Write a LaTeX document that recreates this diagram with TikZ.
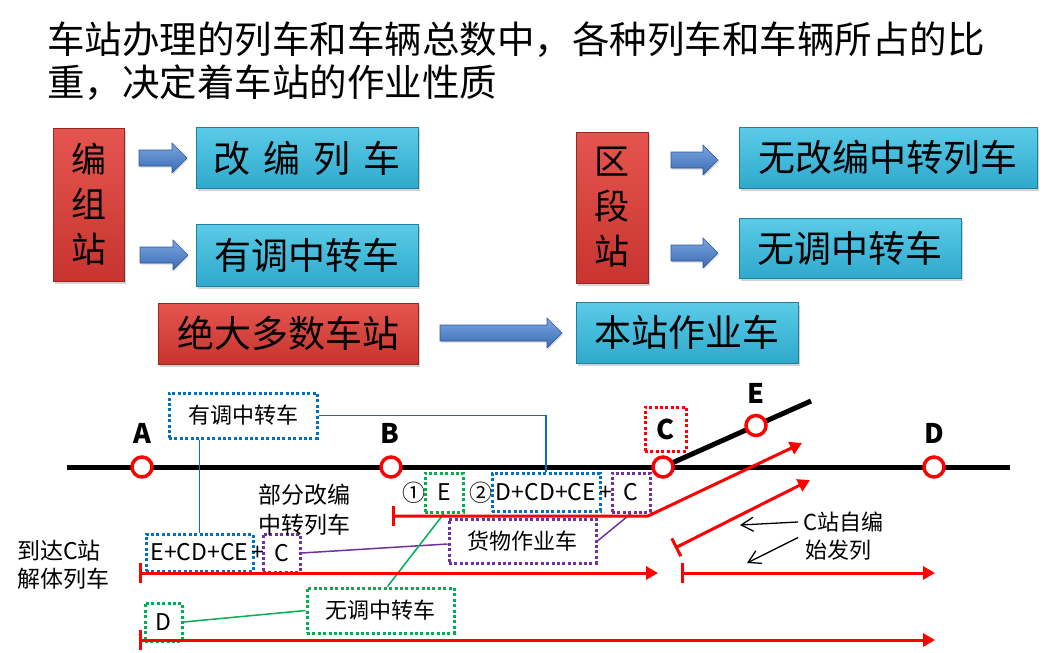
\documentclass[tikz,border=0pt]{standalone}
\usepackage{fontspec}
\setmainfont{Noto Sans CJK SC}
\usetikzlibrary{arrows.meta,shadows}
\definecolor{redtop}{HTML}{E5554F}
\definecolor{redbot}{HTML}{C8342F}
\definecolor{rededge}{HTML}{9A2622}
\definecolor{cytop}{HTML}{5BCBE8}
\definecolor{cybot}{HTML}{2FA9CC}
\definecolor{cyedge}{HTML}{1F7E9C}
\definecolor{artop}{HTML}{7AA6E0}
\definecolor{arbot}{HTML}{3A6BB3}
\definecolor{aredge}{HTML}{2F5597}
\definecolor{dblue}{HTML}{0070C0}
\definecolor{dgreen}{HTML}{00B050}
\definecolor{dpurple}{HTML}{7030A0}
\definecolor{dred}{HTML}{FF0000}
% block arrow from (#1,#3) to (#2,#3)
\newcommand{\blockarrow}[3]{%
  \path[fatarr] (#1,{#3-8}) -- ({#2-15},{#3-8}) -- ({#2-15},{#3-15}) -- (#2,#3)
    -- ({#2-15},{#3+15}) -- ({#2-15},{#3+8}) -- (#1,{#3+8}) -- cycle;}
\begin{document}
\begin{tikzpicture}[x=1pt,y=-1pt,
  boxshadow/.style={drop shadow={shadow xshift=1.5pt,shadow yshift=-2.5pt,opacity=.35}},
  redbx/.style={boxshadow,draw=rededge,line width=.8pt,top color=redtop,bottom color=redbot,inner sep=0pt,font=\fontsize{37}{44}\selectfont},
  cybx/.style={boxshadow,draw=cyedge,line width=.8pt,top color=cytop,bottom color=cybot,inner sep=0pt,font=\fontsize{37}{44}\selectfont},
  vtext/.style={align=center,font=\fontsize{35}{45}\selectfont},
  fatarr/.style={top color=artop,bottom color=arbot,draw=aredge,line width=.6pt,line join=miter,
    drop shadow={shadow xshift=1pt,shadow yshift=-1.5pt,opacity=.3}},
  track/.style={line width=5pt,black},
  stn/.style={circle,draw=dred,line width=3.5pt,fill=white,minimum size=20pt,inner sep=0pt},
  stl/.style={inner sep=0pt,font=\fontsize{27}{30}\selectfont\bfseries},
  dbox/.style={dash pattern=on 3pt off 2.4pt,line width=3pt,inner sep=0pt},
  small/.style={inner sep=0pt,font=\fontsize{22}{26}\selectfont},
  lat/.style={inner sep=0pt,font=\fontsize{23}{26}\selectfont},
  bln/.style={draw=dblue,line width=1.8pt},
  pln/.style={draw=dpurple,line width=1.5pt},
  gln/.style={draw=dgreen,line width=1.5pt},
  rln/.style={draw=dred,line width=3pt},
  rarr/.style={rln,{Bar[width=20pt]}-{Triangle[length=12pt,width=13pt]}},
  kar/.style={draw=black,line width=1.3pt,-{Straight Barb[length=12pt,width=14pt]}}
]
\useasboundingbox (0,0) rectangle (1050,653);
% title
\node[anchor=west,inner sep=0pt,font=\fontsize{37.5}{44}\selectfont] (t1) at (47,40) {车站办理的列车和车辆总数中，各种列车和车辆所占的比};
\node[anchor=west,inner sep=0pt,font=\fontsize{37.5}{44}\selectfont] (t2) at (47,83) {重，决定着车站的作业性质};
% top boxes
\node[redbx,vtext,minimum width=71pt,minimum height=153pt] (bzz) at (88.5,204.5) {编\\组\\站};
\node[cybx,minimum width=222pt,minimum height=61pt] (gbl) at (307,158) {改\hspace{13pt}编\hspace{13pt}列\hspace{13pt}车};
\node[cybx,minimum width=222pt,minimum height=62pt] (ytz) at (307,255) {有调中转车};
\node[redbx,minimum width=260pt,minimum height=61pt] (jdd) at (288,333.5) {绝大多数车站};
\node[redbx,vtext,minimum width=72pt,minimum height=151pt] (qdz) at (612,207.5) {区\\段\\站};
\node[cybx,minimum width=298pt,minimum height=61pt] (wgb) at (888,157.5) {无改编中转列车};
\node[cybx,minimum width=222pt,minimum height=60pt] (wtz) at (850,248) {无调中转车};
\node[cybx,minimum width=222pt,minimum height=61pt] (bzy) at (687,332.5) {本站作业车};
% block arrows
\blockarrow{139}{187}{158}
\blockarrow{140}{188}{255}
\blockarrow{671}{718}{160}
\blockarrow{671}{718}{253}
\blockarrow{440}{562}{333}
% track
\coordinate (tl) at (67,467);
\coordinate (tr) at (1010,467);
\coordinate (pA) at (142,467);
\coordinate (pB) at (391,467);
\coordinate (pC) at (663,467);
\coordinate (pD) at (934,467);
\coordinate (pE) at (756,425.5);
\coordinate (be) at (811,401);
\draw[track] (tl) -- (tr);
\draw[track] (pC) -- (be);
\node[stn] (sA) at (pA) {};
\node[stn] (sB) at (pB) {};
\node[stn] (sC) at (pC) {};
\node[stn] (sD) at (pD) {};
\node[stn] (sE) at (pE) {};
\node[stl] (lA) at (142,433) {A};
\node[stl] (lB) at (390,433) {B};
\node[stl,dbox,draw=dred,minimum width=41pt,minimum height=44pt] (lC) at (665.5,429) {C};
\node[stl] (lD) at (934,433) {D};
\node[stl] (lE) at (756,393) {E};
% dotted boxes
\node[small,dbox,draw=dblue,minimum width=148pt,minimum height=45pt] (yt2) at (243,415.5) {有调中转车};
\node[lat,dbox,draw=dblue,minimum width=107pt,minimum height=37pt] (ecd) at (199.5,552.5) {E+CD+CE};
\node[lat] (pl1) at (258,553) {+};
\node[lat,dbox,draw=dpurple,minimum width=37pt,minimum height=38pt] (c1) at (281.5,553) {C};
\node[lat] (n1) at (414,493) {①};
\node[lat,dbox,draw=dgreen,minimum width=38pt,minimum height=39pt] (eb) at (444,492.5) {E};
\node[lat] (n2) at (481,493) {②};
\node[lat,dbox,draw=dblue,minimum width=108pt,minimum height=38pt] (dcd) at (546,492) {D+CD+CE};
\node[lat] (pl2) at (606,493) {+};
\node[lat,dbox,draw=dpurple,minimum width=38pt,minimum height=39pt] (c2) at (631,492.5) {C};
\node[small,dbox,draw=dpurple,minimum width=147pt,minimum height=44pt] (hw) at (522.5,541) {货物作业车};
\node[small,dbox,draw=dgreen,minimum width=147pt,minimum height=45pt] (wt2) at (380.5,610.5) {无调中转车};
\node[lat,dbox,draw=dgreen,minimum width=37pt,minimum height=38pt] (db) at (163.5,622) {D};
% plain texts
\node[anchor=west,align=left,inner sep=0pt,font=\fontsize{23}{30}\selectfont] (bf) at (258,510) {部分改编\\中转列车};
\node[anchor=west,align=left,inner sep=0pt,font=\fontsize{23}{28}\selectfont] (dd) at (17,565) {到达C站\\解体列车};
\node[small,anchor=west] (czb) at (803,522) {C站自编};
\node[small,anchor=west] (sfl) at (805,550) {始发列};
% connectors
\draw[bln] (yt2.east) -| (dcd.north);
\draw[bln] (ecd.north) -- (ecd.north |- yt2.south);
\draw[pln] (c1.east) -- ([yshift=-3pt]hw.west);
\draw[pln] (hw.east) -- (c2.south);
\draw[gln] (eb.south) -- ([xshift=7pt]wt2.north);
\draw[gln] (db.east) -- (wt2.west);
% red routes
\coordinate (r1s) at (392,516);
\coordinate (r1m) at (648,516);
\coordinate (r1e) at (802,443);
\coordinate (r2s) at (675,548);
\coordinate (r2e) at (810,480);
\coordinate (r3s) at (139,573);
\coordinate (r3e) at (658,573);
\coordinate (r4s) at (681,573);
\coordinate (r4e) at (935,573);
\coordinate (r5s) at (139,640);
\coordinate (r5e) at (935,640);
\draw[rarr] (r1s) -- (r1m) -- (r1e);
\draw[rarr] (r2s) -- (r2e);
\draw[rarr] (r3s) -- (r3e);
\draw[rarr] (r4s) -- (r4e);
\draw[rarr] (r5s) -- (r5e);
% black pointers
\coordinate (k1e) at (740,525);
\coordinate (k2e) at (747,563);
\draw[kar] ([xshift=-5pt]czb.west) -- (k1e);
\draw[kar] ([xshift=-7pt,yshift=2pt]sfl.north west) -- (k2e);
\end{tikzpicture}
\end{document}
